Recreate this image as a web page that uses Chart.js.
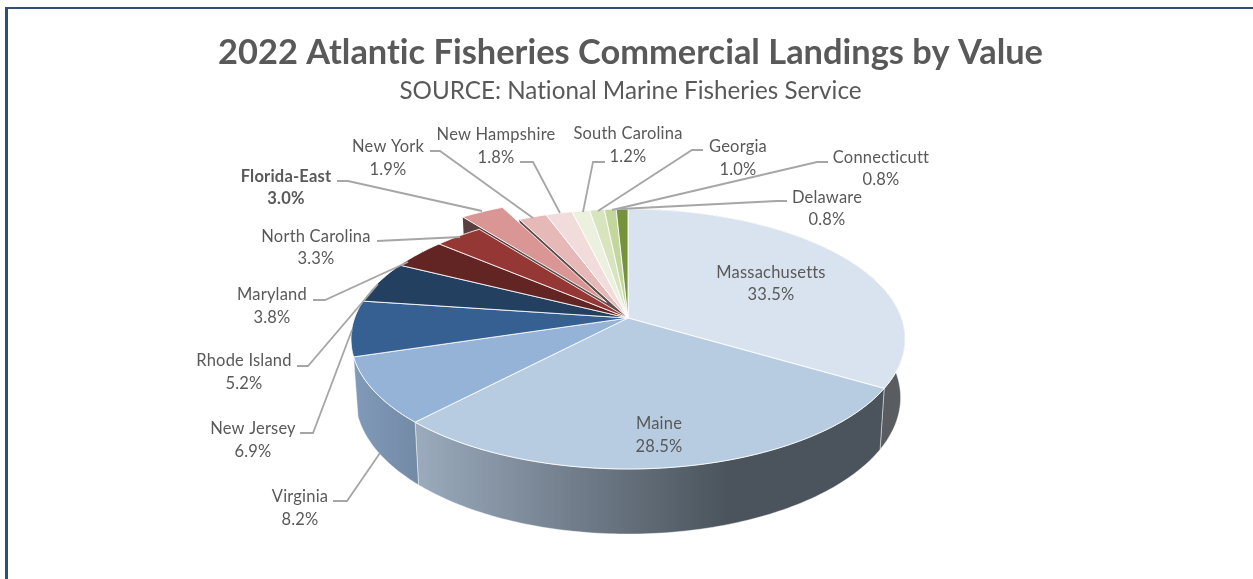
<!DOCTYPE html>
<html lang="en">
<head>
    <meta charset="UTF-8">
    <title>2022 Atlantic Fisheries Commercial Landings by Value</title>
    <script src="https://cdn.jsdelivr.net/npm/chart.js"></script>
    <style>
        body { margin: 0; background: #fff; }
        #frame {
            position: absolute; left: 5px; top: 7px; right: 0; bottom: 0;
            border-left: 3px solid #2f4d75;
            border-top: 2px solid #2f4d75;
        }
        #myChart { position: absolute; left: 0; top: 0; display: block; }
    </style>
</head>
<body>
    <div id="frame"></div>
    <canvas id="myChart" width="1253" height="579"></canvas>
    <script>
        // Data
        const states = ['Massachusetts', 'Maine', 'Virginia', 'New Jersey', 'Rhode Island', 'Maryland',
            'North Carolina', 'Florida-East', 'New York', 'New Hampshire', 'South Carolina', 'Georgia',
            'Connecticutt', 'Delaware'];
        const shares = [33.5, 28.5, 8.2, 6.9, 5.2, 3.8, 3.3, 3.0, 1.9, 1.8, 1.2, 1.0, 0.8, 0.8];
        const colors = ['#d9e3f0', '#b8cce1', '#95b3d7', '#366092', '#244061', '#632523', '#953735',
            '#d99694', '#e6b9b8', '#f2dcdb', '#ebf1de', '#d7e4bd', '#c3d69b', '#76923c'];
        const pulledOut = 'Florida-East';

        // Where the label text sits: centre x, y of first line, y of second line
        const labelSpots = {
            'Massachusetts': [771, 273, 295],
            'Maine': [659, 424, 447],
            'Virginia': [300, 497, 520],
            'New Jersey': [253, 429, 452],
            'Rhode Island': [244, 361, 384],
            'Maryland': [272, 295, 318],
            'North Carolina': [316, 237, 259],
            'Florida-East': [286, 177, 199],
            'New York': [388, 147, 170],
            'New Hampshire': [496, 135, 158],
            'South Carolina': [628, 134, 157],
            'Georgia': [738, 147, 170],
            'Connecticutt': [881, 158, 180],
            'Delaware': [827, 198, 220]
        };
        const leaders = {
            'Virginia': [[333, 501], [347, 501], [380, 453]],
            'New Jersey': [[300, 433], [313, 433], [352, 330]],
            'Rhode Island': [[297, 366], [308, 366], [378, 284]],
            'Maryland': [[313, 300], [325, 300], [408, 262]],
            'North Carolina': [[377, 241], [460, 237]],
            'Florida-East': [[337, 181], [348, 181], [482, 211]],
            'New York': [[430, 151], [440, 151], [533, 218]],
            'New Hampshire': [[520, 162], [533, 162], [560, 213]],
            'South Carolina': [[605, 162], [593, 162], [583, 212]],
            'Georgia': [[703, 150], [692, 150], [598, 211]],
            'Connecticutt': [[828, 162], [817, 162], [612, 210]],
            'Delaware': [[787, 201], [777, 201], [620, 209]]
        };

        // Brightness of the outer wall, left to right across each visible slice
        const wallShades = {
            'Massachusetts': [0.41],
            'Maine': [0.84, 0.62, 0.41, 0.41],
            'Virginia': [0.86, 0.77]
        };

        // Perspective of the tilted pie
        const view = { cx: 628, cy: 318, a: 273.4, b: 126.6, p: 0.1615, wallScale: 0.984, wallStretch: 1.05, wallY: 375.5 };
        const fontName = 'Lato, "Noto Sans", sans-serif';
        const textColor = '#595959';

        function project(u, v) {
            const d = 1 - view.p * v;
            return [view.cx + view.a * u / d, view.cy + view.b * v / d];
        }

        function lower(pt) {
            return [view.cx + (pt[0] - view.cx) * view.wallScale, view.wallY + (pt[1] - view.cy) * view.wallStretch];
        }

        function shade(hex, f) {
            const n = parseInt(hex.slice(1), 16);
            return `rgb(${Math.round((n >> 16) * f)},${Math.round(((n >> 8) & 255) * f)},${Math.round((n & 255) * f)})`;
        }

        function path(ctx, pts) {
            ctx.beginPath();
            pts.forEach((p, i) => i ? ctx.lineTo(p[0], p[1]) : ctx.moveTo(p[0], p[1]));
            ctx.closePath();
        }

        // Turn one arc element of the library into outline points on the tilted plane
        function sliceShape(el) {
            const { startAngle, endAngle, outerRadius } = el.getProps(['startAngle', 'endAngle', 'outerRadius']);
            const shift = (el.options.offset || 0) / outerRadius;
            const mid = (startAngle + endAngle) / 2;
            const ox = Math.cos(mid) * shift, oy = Math.sin(mid) * shift;
            const rim = [];
            const steps = Math.max(2, Math.ceil((endAngle - startAngle) * 60));
            for (let s = 0; s <= steps; s++) {
                const t = startAngle + (endAngle - startAngle) * s / steps;
                rim.push(project(Math.cos(t) + ox, Math.sin(t) + oy));
            }
            return { rim, apex: project(ox, oy) };
        }

        const tiltedPie = {
            id: 'tiltedPie',
            beforeDraw(chart) {
                // any spacing at all switches off the Lato "ti" ligature in the title
                chart.ctx.letterSpacing = '0.01px';
            },
            beforeDatasetDraw(chart) {
                const ctx = chart.ctx;
                const arcs = chart.getDatasetMeta(0).data;
                const shapes = arcs.map(sliceShape);
                ctx.save();
                ctx.lineJoin = 'round';

                // outer walls
                shapes.forEach((s, i) => {
                    const steps = wallShades[states[i]];
                    if (!steps) return;
                    const wall = s.rim.concat(s.rim.map(lower).reverse());
                    const xs = wall.map(p => p[0]);
                    const grad = ctx.createLinearGradient(Math.min(...xs), 0, Math.max(...xs), 0);
                    steps.forEach((f, k) => grad.addColorStop(steps.length > 1 ? k / (steps.length - 1) : 0, shade(colors[i], f)));
                    path(ctx, wall);
                    ctx.fillStyle = grad;
                    ctx.fill();
                    ctx.strokeStyle = 'rgba(255,255,255,0.55)';
                    ctx.lineWidth = 0.8;
                    ctx.stroke();
                });

                // inner faces that show around the pulled out slice
                const out = states.indexOf(pulledOut);
                const faces = [
                    [shapes[out].rim[0], shapes[out].apex, out],
                    [shapes[out + 1].rim[0], shapes[out + 1].apex, out + 1]
                ];
                faces.forEach(([r, c, i]) => {
                    path(ctx, [r, c, lower(c), lower(r)]);
                    ctx.fillStyle = shade(colors[i], 0.42);
                    ctx.fill();
                });

                // top surfaces
                shapes.forEach((s, i) => {
                    path(ctx, [s.apex].concat(s.rim));
                    ctx.fillStyle = colors[i];
                    ctx.fill();
                    ctx.strokeStyle = 'rgba(255,255,255,0.85)';
                    ctx.lineWidth = 1;
                    ctx.stroke();
                });
                ctx.restore();
                return false;
            },
            afterDraw(chart) {
                const ctx = chart.ctx;
                ctx.save();
                ctx.strokeStyle = '#a6a6a6';
                ctx.lineWidth = 1.8;
                Object.values(leaders).forEach(line => {
                    ctx.beginPath();
                    line.forEach((p, i) => i ? ctx.lineTo(p[0], p[1]) : ctx.moveTo(p[0], p[1]));
                    ctx.stroke();
                });
                ctx.fillStyle = textColor;
                ctx.textAlign = 'center';
                ctx.textBaseline = 'middle';
                ctx.letterSpacing = '0.2px';
                states.forEach((name, i) => {
                    const [x, y1, y2] = labelSpots[name];
                    ctx.font = `${name === pulledOut ? 'bold ' : ''}16.5px ${fontName}`;
                    ctx.fillText(name, x, y1);
                    ctx.fillText(`${shares[i].toFixed(1)}%`, x, y2);
                });
                ctx.restore();
            }
        };

        const ctx = document.getElementById('myChart').getContext('2d');
        const myChart = new Chart(ctx, {
            type: 'pie',
            plugins: [tiltedPie],
            data: {
                labels: states,
                datasets: [{
                    data: shares,
                    backgroundColor: colors,
                    offset: states.map(s => s === pulledOut ? 15 : 0)
                }]
            },
            options: {
                responsive: false,
                animation: false,
                radius: 100,
                layout: { padding: { left: 8 } },
                plugins: {
                    legend: { display: false },
                    tooltip: { enabled: false },
                    title: {
                        display: true,
                        text: '2022 Atlantic Fisheries Commercial Landings by Value',
                        color: textColor,
                        font: { family: fontName, size: 34.4, weight: 'bold' },
                        padding: { top: 32, bottom: 0 }
                    },
                    subtitle: {
                        display: true,
                        text: 'SOURCE: National Marine Fisheries Service',
                        color: textColor,
                        font: { family: fontName, size: 24.2 },
                        padding: { top: 3, bottom: 0 }
                    }
                }
            }
        });
    </script>
</body>
</html>
